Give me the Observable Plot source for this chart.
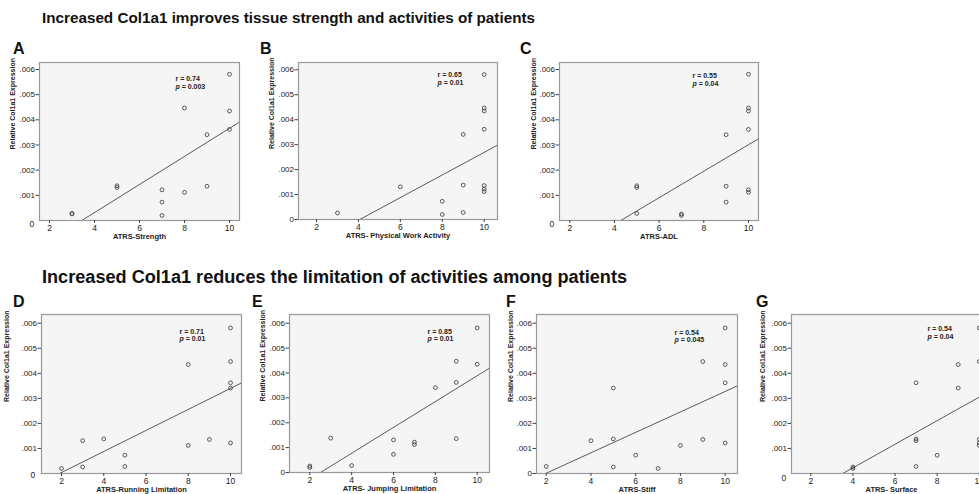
<!DOCTYPE html>
<html><head><meta charset="utf-8">
<script src="https://cdn.jsdelivr.net/npm/d3@7"></script>
<script src="https://cdn.jsdelivr.net/npm/@observablehq/plot@0.6"></script>
<style>
body{margin:0;background:#fff}
#fig{position:relative;width:979px;height:494px;overflow:hidden;background:#fff;font-family:"Liberation Sans",Arial,sans-serif}
#fig > svg{position:absolute}
</style></head><body><div id="fig"></div>
<script>
// ---------- data (Relative Col1a1 Expression vs ATRS item scores) ----------
const xTicks = [2, 4, 6, 8, 10];
const yTicks = [0.001, 0.002, 0.003, 0.004, 0.005, 0.006];

const A_x = [3,3,5,5,7,7,7,8,8,9,9,10,10,10];
const A_y = [.00026,.00028,.00138,.00131,.00122,.00073,.00020,.00447,.00112,.00341,.00136,.00581,.00435,.00362];
const B_x = [3,6,8,8,9,9,9,10,10,10,10,10,10,10];
const B_y = [.00026,.00131,.00073,.00020,.00341,.00138,.00028,.00581,.00447,.00435,.00362,.00136,.00122,.00112];
const C_x = [5,5,5,7,7,9,9,9,10,10,10,10,10,10];
const C_y = [.00028,.00138,.00131,.00026,.00020,.00341,.00136,.00073,.00581,.00447,.00435,.00362,.00122,.00112];
const D_x = [2,3,3,4,5,5,8,8,9,10,10,10,10,10];
const D_y = [.00020,.00131,.00026,.00138,.00073,.00028,.00435,.00112,.00136,.00581,.00447,.00362,.00341,.00122];
const E_x = [2,2,3,4,6,6,7,7,8,9,9,9,10,10];
const E_y = [.00026,.00020,.00138,.00028,.00131,.00073,.00122,.00112,.00341,.00447,.00362,.00136,.00581,.00435];
const F_x = [2,4,5,5,5,6,7,8,9,9,10,10,10,10];
const F_y = [.00028,.00131,.00341,.00138,.00026,.00073,.00020,.00112,.00447,.00136,.00581,.00435,.00362,.00122];
const G_x = [4,4,7,7,7,7,8,9,9,10,10,10,10,10];
const G_y = [.00020,.00026,.00362,.00138,.00131,.00028,.00073,.00435,.00341,.00581,.00447,.00136,.00122,.00112];

const letters = ["A","B","C","D","E","F","G"];
const xLabels = ["ATRS-Strength","ATRS- Physical Work Activity","ATRS-ADL","ATRS-Running Limitation","ATRS- Jumping Limitation","ATRS-Stiff","ATRS- Surface"];
const rLabels = ["r = 0.74","r = 0.65","r = 0.55","r = 0.71","r = 0.85","r = 0.54","r = 0.54"];
const pLabels = ["= 0.003","= 0.01","= 0.04","= 0.01","= 0.01","= 0.045","= 0.04"];
const yLabel = "Relative Col1a1 Expression";
const titles = ["Increased Col1a1 improves tissue strength and activities of patients",
                "Increased Col1a1 reduces the limitation of activities among patients"];

const series = [[A_x,A_y],[B_x,B_y],[C_x,C_y],[D_x,D_y],[E_x,E_y],[F_x,F_y],[G_x,G_y]];

// ---------- layout ----------
const layout = [
  {L:39, R:239, T:62, B:220, x0:1.556, x1:10.444, ymax:.006278, ylabDx:-27, ann:[175,75.7], zero:[-10,6], let:[13,54]},
  {L:298,R:497, T:62, B:219, x0:1.141, x1:10.635, ymax:.006293, ylabDx:-27, ann:[437,71.7], zero:null,   let:[260,54]},
  {L:559,R:758, T:62, B:220, x0:1.539, x1:10.45,  ymax:.006278, ylabDx:-26, ann:[692,72.7], zero:[-10,6], let:[520,54]},
  {L:41, R:241, T:314,B:473, x0:1.053, x1:10.52,  ymax:.006347, ylabDx:-35, ann:[179,328.3],zero:[-11,4], let:[13,307]},
  {L:289,R:489, T:314,B:472, x0:1.03,  x1:10.588, ymax:.00635,  ylabDx:-27, ann:[427,328.3],zero:null,   let:[252,307]},
  {L:536,R:737, T:314,B:473, x0:1.566, x1:10.55,  ymax:.006347, ylabDx:-26, ann:[674,329.3],zero:null,   let:[506,307]},
  {L:791,R:991, T:314,B:473, x0:1.084, x1:10.58,  ymax:.006347, ylabDx:-29, ann:[927,325.7],zero:[-10,7], let:[756,307]}
];
const mL = 42, mR = 2, mT = 2, mB = 26;
const ink = "#222";

const fig = document.getElementById("fig");

// titles and panel letters
const over = d3.select(fig).append("svg").attr("width",979).attr("height",494).style("left","0px").style("top","0px")
  .style("font-family",'"Liberation Sans",Arial,sans-serif');
over.append("text").attr("x",42).attr("y",23).attr("font-size",15.5).attr("font-weight","bold").attr("fill","#111")
  .attr("textLength",493).attr("lengthAdjust","spacingAndGlyphs").text(titles[0]);
over.append("text").attr("x",42).attr("y",283).attr("font-size",18).attr("font-weight","bold").attr("fill","#111")
  .attr("textLength",585).attr("lengthAdjust","spacingAndGlyphs").text(titles[1]);
layout.forEach((c,i)=>{
  over.append("text").attr("x",c.let[0]).attr("y",c.let[1]).attr("font-size",16).attr("font-weight","bold").attr("fill","#111").text(letters[i]);
});

function fit(xs, ys){
  const mx = d3.mean(xs), my = d3.mean(ys);
  let sxy = 0, sxx = 0;
  xs.forEach((x,i)=>{ sxy += (x-mx)*(ys[i]-my); sxx += (x-mx)*(x-mx); });
  const b = sxy/sxx; return {a: my - b*mx, b};
}
const fmt = d => d === 0 ? "0" : d3.format(".3f")(d).replace(/^0/, "");

layout.forEach((c,i)=>{
  const [xs, ys] = series[i];
  const data = xs.map((x,j)=>({x, y: ys[j]}));
  const {a,b} = fit(xs, ys);
  const linePts = [c.x0, c.x1].map(x => ({x, y: a + b*x}));
  const ticksY = c.zero ? yTicks : [0, ...yTicks];
  const annDx = c.ann[0] - c.L, annDy = c.ann[1] - c.T;
  const marks = [
    Plot.frame({fill:"#f5f5f5", stroke:"#999", strokeWidth:1.2}),
    Plot.axisX({ticks:xTicks, tickSize:3, tickPadding:1, fontSize:8.5, label:null, stroke:"#444", fill:ink}),
    Plot.axisY({ticks:ticksY, tickFormat:fmt, tickSize:3.5, tickPadding:1, fontSize:8, label:null, stroke:"#444", fill:ink}),
    Plot.line(linePts, {x:"x", y:"y", stroke:"#333", strokeWidth:0.8, clip:true}),
    Plot.dot(data, {x:"x", y:"y", r:1.9, stroke:"#333", strokeWidth:0.8}),
    Plot.text([yLabel], {text:d=>d, frameAnchor:"left", dx:c.ylabDx, dy:8, rotate:-90, fontWeight:"bold", fontSize:7, fill:ink}),
    Plot.text([xLabels[i]], {text:d=>d, frameAnchor:"bottom", dy:18.5, fontWeight:"bold", fontSize:7.5, fill:ink}),
    Plot.text([rLabels[i]], {text:d=>d, frameAnchor:"top-left", dx:annDx, dy:annDy, textAnchor:"start", fontWeight:"bold", fontSize:7, fill:ink}),
    Plot.text(["p"], {text:d=>d, frameAnchor:"top-left", dx:annDx, dy:annDy+7.5, textAnchor:"start", fontWeight:"bold", fontStyle:"italic", fontSize:7, fill:ink}),
    Plot.text([pLabels[i]], {text:d=>d, frameAnchor:"top-left", dx:annDx+6.2, dy:annDy+7.5, textAnchor:"start", fontWeight:"bold", fontSize:7, fill:ink})
  ];
  if (c.zero) marks.push(Plot.text(["0"], {text:d=>d, frameAnchor:"bottom-left", dx:c.zero[0], dy:c.zero[1], fontSize:8.5, fill:ink}));
  const w = c.R - c.L + mL + mR, h = c.B - c.T + mT + mB;
  const svg = Plot.plot({
    width:w, height:h, marginLeft:mL, marginRight:mR, marginTop:mT, marginBottom:mB,
    x:{domain:[c.x0, c.x1], axis:null},
    y:{domain:[0, c.ymax], axis:null},
    style:{fontFamily:'"Liberation Sans",Arial,sans-serif', background:"transparent", overflow:"visible", color:ink},
    marks
  });
  svg.style.position = "absolute";
  svg.style.left = (c.L - mL) + "px";
  svg.style.top = (c.T - mT) + "px";
  fig.appendChild(svg);
});
</script></body></html>
